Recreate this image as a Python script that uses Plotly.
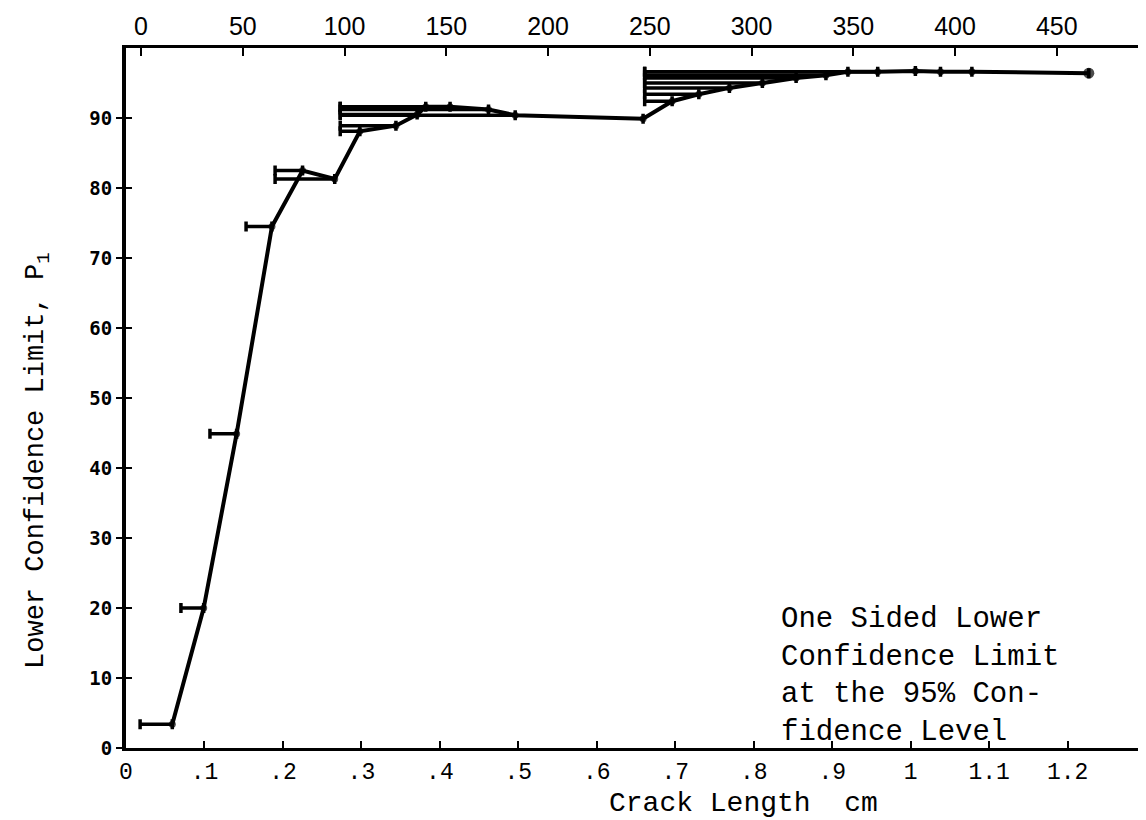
import plotly.graph_objects as go

# ---- data ----
crack_cm = [0.059, 0.099, 0.141, 0.186, 0.225, 0.266, 0.298, 0.344, 0.371, 0.382,
            0.413, 0.462, 0.496, 0.659, 0.696, 0.730, 0.769, 0.811, 0.854, 0.892,
            0.920, 0.958, 1.006, 1.038, 1.078, 1.227]
p1 = [3.4, 20.0, 44.9, 74.5, 82.5, 81.3, 88.1, 88.9, 90.5, 91.6,
      91.6, 91.2, 90.4, 89.9, 92.4, 93.4, 94.3, 95.0, 95.7, 96.1,
      96.6, 96.6, 96.7, 96.6, 96.6, 96.4]
interval_start_cm = [0.018, 0.070, 0.107, 0.153, 0.190, 0.190, 0.273, 0.273, 0.273, 0.273,
                     0.273, 0.273, 0.273, None, 0.661, 0.661, 0.661, 0.661, 0.661, 0.661,
                     0.661, 0.661, None, None, None, None]

bottom_ticks = [0, 0.1, 0.2, 0.3, 0.4, 0.5, 0.6, 0.7, 0.8, 0.9, 1.0, 1.1, 1.2]
bottom_labels = ["0", ".1", ".2", ".3", ".4", ".5", ".6", ".7", ".8", ".9", "1", "1.1", "1.2"]
top_ticks = [0, 50, 100, 150, 200, 250, 300, 350, 400, 450]
y_ticks = [0, 10, 20, 30, 40, 50, 60, 70, 80, 90]

note_lines = ["One Sided Lower", "Confidence Limit", "at the 95% Con-", "fidence Level"]

# partial axis of a neighbouring chart at the right edge
right_tick_levels = [54.5, 43.3, 32.6, 22.2, 11.8]
right_dot_levels = [87, 75, 65]

minus = [(x - s) if s is not None else 0 for x, s in zip(crack_cm, interval_start_cm)]

fig = go.Figure()
fig.add_trace(go.Scatter(
    x=crack_cm, y=p1, mode="lines+markers",
    line=dict(color="black", width=4),
    marker=dict(color="black", size=[7] * (len(p1) - 1) + [11], symbol="circle",
                line=dict(width=0)),
    error_x=dict(type="data", symmetric=False, array=[0] * len(p1), arrayminus=minus,
                 color="black", thickness=3.5, width=5),
    showlegend=False, hoverinfo="x+y",
))
# dummy traces to activate overlay axes
fig.add_trace(go.Scatter(x=[None], y=[None], xaxis="x2", yaxis="y", showlegend=False, hoverinfo="skip"))
fig.add_trace(go.Scatter(x=[None], y=[None], xaxis="x", yaxis="y3", showlegend=False, hoverinfo="skip"))

mono = "Liberation Mono"

fig.update_layout(
    width=1146, height=820,
    margin=dict(l=118, r=4, t=40, b=80),
    paper_bgcolor="white", plot_bgcolor="white",
    xaxis=dict(range=[0, 1.305], tickvals=bottom_ticks, ticktext=bottom_labels,
               ticks="inside", ticklen=7, tickwidth=2, tickcolor="black",
               showline=True, linecolor="black", linewidth=3, showgrid=False, zeroline=False,
               tickfont=dict(family=mono, size=23, color="black"), ticklabelstandoff=0),
    xaxis2=dict(overlaying="x", side="top", range=[-7.4, 495.8], tickvals=top_ticks,
                ticks="inside", ticklen=8, tickwidth=2, tickcolor="black",
                showline=True, linecolor="black", linewidth=3, showgrid=False, zeroline=False,
                tickfont=dict(family="Liberation Sans", size=25, color="black")),
    yaxis=dict(range=[0, 100], tickvals=y_ticks,
               ticks="outside", ticklen=6, tickwidth=2, tickcolor="black",
               showline=True, linecolor="black", linewidth=4, showgrid=False, zeroline=False,
               tickfont=dict(family="DejaVu Sans Mono", size=19, color="black", weight="bold")),
    yaxis3=dict(overlaying="y", range=[0, 100], tickvals=y_ticks, showticklabels=False,
                ticks="inside", ticklen=6, tickwidth=2, tickcolor="black",
                showline=False, showgrid=False, zeroline=False),
)

# axis titles as annotations (positions as in the reference)
fig.add_annotation(text="Crack Length\u00a0\u00a0cm", xref="paper", yref="paper",
                   x=0.603, y=-0.079, xanchor="center", yanchor="middle", showarrow=False,
                   font=dict(family=mono, size=28, color="black"))
fig.add_annotation(text="Lower Confidence Limit, P<sub>1</sub>", xref="paper", yref="paper",
                   x=-0.086, y=0.41, xanchor="center", yanchor="middle", showarrow=False,
                   textangle=-90, font=dict(family=mono, size=27, color="black"))

fig.add_annotation(text="<br>".join(note_lines), xref="paper", yref="paper",
                   x=0.638, y=(740 - 668) / 700, xanchor="left", yanchor="middle",
                   align="left", showarrow=False,
                   font=dict(family=mono, size=29, color="black"))

# partial right-edge axis
fig.add_shape(type="line", xref="paper", yref="paper", x0=1.0, x1=1.0, y0=-0.1, y1=0.58,
              line=dict(color="black", width=2))
for lv in right_tick_levels:
    fig.add_shape(type="line", xref="paper", yref="y", x0=0.992, x1=1.004, y0=lv, y1=lv,
                  line=dict(color="black", width=3))
for lv in right_dot_levels:
    fig.add_shape(type="line", xref="paper", yref="y", x0=0.996, x1=1.003, y0=lv, y1=lv,
                  line=dict(color="black", width=3))

fig.write_html("out.html")
